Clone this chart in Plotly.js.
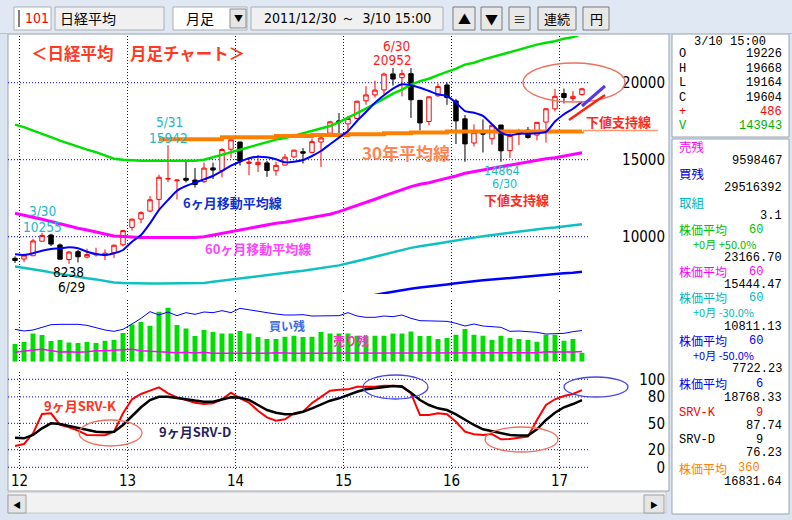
<!DOCTYPE html>
<html><head><meta charset="utf-8">
<script src="https://cdn.plot.ly/plotly-3.0.1.min.js"></script>
<style>html,body{margin:0;padding:0;background:#dbe5f1;}#chart{width:792px;height:520px;}</style>
</head><body><div id="chart"></div>
<script>
// ---------------- data ----------------
const months = ["2011/12","2012/01","2012/02","2012/03","2012/04","2012/05","2012/06","2012/07","2012/08","2012/09","2012/10","2012/11","2012/12",
"2013/01","2013/02","2013/03","2013/04","2013/05","2013/06","2013/07","2013/08","2013/09","2013/10","2013/11","2013/12",
"2014/01","2014/02","2014/03","2014/04","2014/05","2014/06","2014/07","2014/08","2014/09","2014/10","2014/11","2014/12",
"2015/01","2015/02","2015/03","2015/04","2015/05","2015/06","2015/07","2015/08","2015/09","2015/10","2015/11","2015/12",
"2016/01","2016/02","2016/03","2016/04","2016/05","2016/06","2016/07","2016/08","2016/09","2016/10","2016/11","2016/12",
"2017/01","2017/02","2017/03"];
const open  = [8597,8549,8764,9707,10110,9465,8516,9028,8677,8816,8771,8961,9475,10604,11145,11666,12423,13745,13632,13790,13681,13572,14467,14290,15678,16147,14760,14680,14791,14284,14649,15179,15520,15476,16146,16723,17520,17325,17674,18826,19208,19530,20570,20329,20585,18854,17479,19150,19850,18818,17651,16085,16720,16357,17251,15592,16635,16926,16598,17442,18303,19298,18970,19226];
const high  = [8723,8902,9866,10255,10190,9566,9064,9136,9222,9288,9179,9491,10433,11184,11662,12650,14021,15942,13711,14953,14466,14817,14808,15749,16320,16164,15094,15312,14925,14864,15376,15646,15759,16374,16533,17520,18030,17850,18826,19778,20133,20655,20952,20850,20946,18877,19115,19959,20012,18951,17905,17291,17613,17251,17251,16938,17003,17121,17425,18308,19592,19615,19459,19668];
const low   = [8296,8349,8740,9700,9388,8511,8238,8328,8589,8708,8488,8619,9366,10398,10880,11584,11805,13555,12415,13532,13188,13492,13748,13853,15112,14619,13995,14203,13885,13964,14640,15123,14753,15426,14529,16720,16672,16592,17615,18573,19034,19258,19821,19115,17714,16901,17229,19080,18562,16017,14865,15857,15471,15975,14864,15106,15948,16359,16251,16111,18137,18650,18805,19164];
const close = [8455,8802,9723,10083,9520,8542,9006,8695,8839,8870,8928,9446,10395,11138,11559,12397,13860,13774,13677,13668,13388,14455,14327,15661,16291,14914,14841,14827,14304,14632,15162,15620,15424,16173,16413,17459,17450,17674,18797,19206,19520,20563,20235,20585,18890,17388,19083,19747,19033,17518,16026,16758,16666,17234,15575,16569,16887,16449,17425,18308,19114,19041,19118,19604];
const ma6   = [8857,8810,8925,9090,9200,9245,9310,9245,9025,8875,8810,8920,9135,9675,10110,10870,11735,12380,12985,13290,13505,13725,13940,14265,14610,14870,15090,15195,15155,15025,14830,14870,14980,15240,15565,16000,16430,16860,17510,18100,18700,19180,19610,19895,19830,19675,19460,19245,19135,18700,18160,18050,17840,17300,16755,16585,16690,16690,16715,16800,17480,17950,18310,18768.33];
const ma60  = [11520,11410,11260,11130,10975,10825,10695,10545,10435,10325,10175,10045,10000,9960,9950,9950,9950,9950,9950,9950,9950,10000,10110,10220,10325,10435,10545,10650,10760,10870,10935,11040,11120,11235,11345,11455,11625,11820,11995,12210,12430,12645,12860,13035,13250,13400,13505,13660,13790,13940,14115,14200,14330,14440,14545,14655,14740,14850,14980,15065,15130,15240,15305,15444.47];
const ma360 = [null,null,null,null,null,null,null,null,null,null,null,null,null,null,null,null,16330,16330,16330,16330,16330,16330,16330,16455,16455,16455,16455,16455,16455,16540,16540,16540,16540,16600,16600,16600,16600,16660,16660,16660,16660,16715,16715,16715,16760,16760,16760,16760,16830,16830,16830,16830,16830,16830,16830,16830,16830,16830,16830,16830,16830,16830,16830,16831.64];
const bandRates = {"+50.0%": 0.5, "-30.0%": -0.3, "-50.0%": -0.5};
const volume = [283000,315000,453000,427000,331000,347000,309000,299000,315000,299000,336000,347000,459000,597000,635000,576000,800000,864000,587000,533000,411000,507000,475000,453000,453000,491000,453000,395000,363000,363000,400000,416000,395000,400000,475000,453000,453000,453000,416000,411000,416000,416000,453000,453000,485000,411000,411000,363000,379000,432000,523000,432000,416000,347000,416000,379000,363000,347000,320000,432000,432000,336000,363000,143943];
const buyBalance  = [30.68,29.09,30.04,32.57,35.10,35.41,35.41,35.41,34.47,32.25,30.04,28.78,30.68,35.73,41.10,47.42,44.26,47.10,43.63,46.47,44.89,47.10,46.47,48.36,46.47,50.58,49.00,47.42,46.47,45.20,44.26,44.26,44.57,43.31,43.63,43.63,43.63,46.47,43.31,42.05,42.05,43.31,42.68,44.26,41.10,38.88,38.57,38.26,38.26,36.36,33.83,35.73,33.83,33.20,32.57,28.78,29.09,28.46,27.83,26.25,26.25,26.88,28.46,29.52];
const sellBalance = [8.88,10.14,11.09,11.72,10.46,9.19,9.51,8.88,9.51,10.46,10.46,11.09,11.09,11.72,10.46,9.83,9.83,8.88,8.56,8.88,8.25,8.88,7.93,7.93,7.93,7.93,7.93,7.61,7.93,8.56,7.93,7.93,7.93,7.93,7.93,8.25,7.93,8.56,8.25,8.25,8.25,7.93,7.93,7.93,8.56,7.93,8.25,7.93,8.25,7.93,8.56,8.25,8.56,7.93,8.56,8.25,7.93,8.56,8.56,9.51,9.19,9.19,9.19,9.60];
const srvK = [24.2,26.5,38.6,60.6,61.4,48.1,45.5,41.6,36.7,36.4,36.4,40.5,61.4,77.3,83.3,87.1,90.9,84.1,79.5,76.5,73.4,71.9,72.7,77.3,84.8,78.4,73.4,64.3,56.8,53.0,54.5,61.4,63.2,73.0,80.5,87.1,88.0,88.6,91.6,91.6,91.6,92.7,92.7,92.4,84.1,59.4,59.4,61.4,60.2,51.8,40.5,37.5,36.7,37.8,31.8,32.2,33.6,34.8,53.8,70.8,77.3,81.0,83.3,87.74];
const srvD = [33.6,32.9,36.7,44.3,50.0,49.2,46.9,45.0,42.4,40.5,39.8,40.5,48.1,58.3,68.2,76.5,80.2,80.2,79.1,77.3,75.8,74.6,74.6,77.3,79.5,79.1,76.5,70.8,65.1,62.0,60.2,60.6,63.2,67.0,71.6,75.7,78.4,82.2,85.9,88.6,89.8,90.9,92.4,91.6,84.8,76.5,70.8,67.0,65.1,60.2,53.8,48.1,43.2,41.3,39.4,36.7,36.0,36.0,43.2,53.8,62.0,68.2,71.9,76.23];
const yearLabels = ["12","13","14","15","16","17"];
const priceTicks = [10000,15000,20000];
const priceTickText = ["10000","15000","20000"];
const srvTicks = [0,20,50,80,100];
const srvTickText = ["0","20","50","80","100"];

// ---------------- helpers ----------------
const W = 792, H = 520;
const PX = x => x / W, PY = y => 1 - y / H;
const idx = months.map((m, i) => i);
const yearPos = yearLabels.map(y => months.indexOf("20" + y + "/01") - 0.5);
const band = r => ma60.map(v => v * (1 + r));
const JP = '"Noto Sans CJK JP", "Noto Sans CJK SC", sans-serif';
const NUM = '"Liberation Sans Narrow", "DejaVu Sans Condensed", "Liberation Mono", monospace';
const MONO = '"Liberation Mono", "DejaVu Sans Mono", monospace';

// ---------------- traces ----------------
const traces = [
  {type:'scatter', mode:'lines', x: idx, y: band(bandRates["+50.0%"]), line:{color:'#00e000', width:2.5}, xaxis:'x', yaxis:'y', hoverinfo:'skip'},
  {type:'scatter', mode:'lines', x: idx, y: ma60, line:{color:'#ff00ff', width:3}, xaxis:'x', yaxis:'y', hoverinfo:'skip'},
  {type:'scatter', mode:'lines', x: idx, y: band(bandRates["-30.0%"]), line:{color:'#10c0c0', width:2.5}, xaxis:'x', yaxis:'y', hoverinfo:'skip'},
  {type:'scatter', mode:'lines', x: idx, y: band(bandRates["-50.0%"]), line:{color:'#0000ff', width:2.5}, xaxis:'x', yaxis:'y', hoverinfo:'skip'},
  {type:'scatter', mode:'lines', x: idx, y: ma360, line:{color:'#ff8000', width:4, shape:'hv'}, xaxis:'x', yaxis:'y', hoverinfo:'skip'},
  {type:'candlestick', x: idx, open: open, high: high, low: low, close: close, xaxis:'x', yaxis:'y',
   increasing:{line:{color:'#ff0000', width:1}, fillcolor:'#ffffff'},
   decreasing:{line:{color:'#000000', width:1}, fillcolor:'#000000'},
   whiskerwidth:0, hoverinfo:'skip'},
  {type:'scatter', mode:'lines', x: idx, y: ma6, line:{color:'#0000ff', width:2, shape:'spline', smoothing:0.6}, xaxis:'x', yaxis:'y', hoverinfo:'skip'},
  {type:'bar', x: idx, y: volume, width:0.55, marker:{color:'#00dd00', line:{width:0}}, xaxis:'x2', yaxis:'y2', hoverinfo:'skip'},
  {type:'scatter', mode:'lines', x: idx, y: buyBalance, line:{color:'#0000ff', width:1}, xaxis:'x2', yaxis:'y4', hoverinfo:'skip'},
  {type:'scatter', mode:'lines', x: idx, y: sellBalance, line:{color:'#ff00ff', width:1.5}, xaxis:'x2', yaxis:'y4', hoverinfo:'skip'},
  {type:'scatter', mode:'lines', x: idx, y: srvK, line:{color:'#ff0000', width:2}, xaxis:'x3', yaxis:'y3', hoverinfo:'skip'},
  {type:'scatter', mode:'lines', x: idx, y: srvD, line:{color:'#000000', width:2.5}, xaxis:'x3', yaxis:'y3', hoverinfo:'skip'}
];

// ---------------- axes ----------------
const xBase = {domain:[PX(8), PX(668)], range:[-0.78, 72.56], tickvals: yearPos, ticktext: yearLabels,
  showgrid:true, gridcolor:'#0000ff', griddash:'1px,2px', gridwidth:1, zeroline:false, showline:false, ticks:'', fixedrange:true,
  rangeslider:{visible:false}};
const gridEnd = months.length - 1 + 0.67;

const shapes = [];
const rect = (x0,y0,x1,y1,fill,line,lw) => shapes.push({type:'rect', xref:'paper', yref:'paper', x0:PX(x0), x1:PX(x1), y0:PY(y1), y1:PY(y0), fillcolor:fill, line:{color:line||'rgba(0,0,0,0)', width: lw===undefined?1:lw}, layer:'below'});
const pline = (x0,y0,x1,y1,color,w,layer) => shapes.push({type:'line', xref:'paper', yref:'paper', x0:PX(x0), x1:PX(x1), y0:PY(y0), y1:PY(y1), line:{color:color, width:w}, layer:layer||'above'});
const ell = (x0,y0,x1,y1,color,w) => shapes.push({type:'circle', xref:'paper', yref:'paper', x0:PX(x0), x1:PX(x1), y0:PY(y1), y1:PY(y0), line:{color:color, width:w}, layer:'above'});

// window frame & panels
rect(0,0,792,34,'#dfe8f3');
rect(8,34,669,491,'#ffffff','#9aa4b0',1);
rect(672,34,789,137,'#ffffff','#9aa4b0',1);
rect(672,139,789,514,'#ffffff','#9aa4b0',1);
pline(0,33.5,792,33.5,'#b8c4d2',1,'below');
// toolbar widgets
rect(14,7,51,30,'#ffffff','#a8b0b8',1);
pline(19,10,19,27,'#000000',1);
rect(55,7,164,30,'#f0f0f0','#a8b0b8',1);
rect(173,7,247,30,'#ffffff','#a8b0b8',1);
rect(230,9,246,28,'#e6e6e6','#8a8a8a',1);
rect(251,7,443,30,'#f0f0f0','#a8b0b8',1);
rect(453,7,475,30,'#e8e8e8','#7a7a7a',1);
rect(481,7,502,30,'#e8e8e8','#7a7a7a',1);
rect(509,7,530,30,'#e8e8e8','#7a7a7a',1);
rect(538,7,576,30,'#e8e8e8','#7a7a7a',1);
rect(583,7,609,30,'#e8e8e8','#7a7a7a',1);
// scrollbar
rect(8,492,666,513,'#f2f2f2','#c8c8c8',1);
rect(8,495,26,513,'#e6e6e6','#a0a0a0',1);
rect(644,495,664,513,'#e6e6e6','#a0a0a0',1);

// horizontal dotted grid lines
priceTicks.forEach(v => shapes.push({type:'line', xref:'x', yref:'y', x0:-0.78, x1:gridEnd, y0:v, y1:v, line:{color:'#0000ff', width:1, dash:'1px,2px'}, layer:'below'}));
srvTicks.forEach(v => shapes.push({type:'line', xref:'x3', yref:'y3', x0:-0.78, x1:gridEnd, y0:v, y1:v, line:{color:'#0000ff', width:1, dash:'1px,2px'}, layer:'below'}));

// hand-drawn marks
ell(523,63,625,102,'#f07060',1.3);
ell(79,420,142,446,'#f07060',1.3);
ell(485,427,558,452,'#f07060',1.3);
ell(363,375,428,399,'#4848e8',1.3);
ell(564,377,628,397,'#4848e8',1.3);
pline(569,120,605,95,'#ff2010',2.5);
pline(582,106,605,86,'#5a3ae0',3);
pline(583,130.5,658,130.5,'#ff9870',1.5);

// ---------------- annotations ----------------
const ann = [];
const T = (x,y,text,color,size,family,xanchor) => ann.push({xref:'paper', yref:'paper', x:PX(x), y:PY(y), text:text, showarrow:false,
  xanchor:xanchor||'left', yanchor:'middle', borderpad:0, font:{family:family||JP, size:size||13, color:color||'#000000'}});

// toolbar text
T(24,18.5,'101','#ff0000',14,NUM);
T(59,18.5,'日経平均','#000000',14,JP);
T(200,18.5,'月足','#000000',14,JP,'center');
T(238,18.5,'▼','#000000',9,JP,'center');
T(347,18.5,'2011/12/30 ～  3/10 15:00','#000000',14,NUM,'center');
T(464,18.5,'▲','#000000',13,JP,'center');
T(491.5,18.5,'▼','#000000',13,JP,'center');
T(519.5,18.5,'≡','#000000',13,JP,'center');
T(557,18.5,'連続','#000000',13,JP,'center');
T(596,18.5,'円','#000000',13,JP,'center');
T(17,504,'◀','#000000',8,JP,'center');
T(654,504,'▶','#000000',8,JP,'center');

// chart labels
T(30,53,'<b>＜日経平均　月足チャート＞</b>','#ff3a24',16.5,JP);
T(232,203,'<b>6ヶ月移動平均線</b>','#1030d0',13,JP,'center');
T(204,248.5,'<b>60ヶ月移動平均線</b>','#ff44ff',13,JP);
T(361,152.7,'<b>30年平均線</b>','#ff8450',17,JP);
T(483,199.3,'<b>下値支持線</b>','#ff2a1a',13,JP);
T(585,121.7,'<b>下値支持線</b>','#ff2a1a',13,JP);
T(268,325,'<b>買い残</b>','#3a6ee8',12,JP);
T(332,340,'<b>売り残</b>','#ff30c0',12,JP);
T(43,405,'<b>9ヶ月SRV-K</b>','#ff3322',13,JP);
T(158,431.5,'<b>9ヶ月SRV-D</b>','#2a1f5c',13,JP);
T(42,211.2,'3/30','#20b8c8',13.5,NUM,'center');
T(42,226.8,'10255','#20b8c8',13.5,NUM,'center');
T(68,271.5,'8238','#000000',13.5,NUM,'center');
T(71.5,287,'6/29','#000000',13.5,NUM,'center');
T(169.5,122.2,'5/31','#20b8c8',13.5,NUM,'center');
T(168,137.8,'15942','#20b8c8',13.5,NUM,'center');
T(396,45.5,'6/30','#ff2020',13.5,NUM,'center');
T(392,59.8,'20952','#ff2020',13.5,NUM,'center');
T(501.5,170.3,'14864','#20b8c8',12.5,NUM,'center');
T(504.5,183.4,'6/30','#20b8c8',12.5,NUM,'center');

// right info panel
const R = 783, L = 678;
T(730,41.7,'3/10 15:00','#000000',12,MONO,'center');
[['O','19226',54],['H','19668',69.3],['L','19164',83.3],['C','19604',97.7]].forEach(r => { T(L,r[2],r[0],'#000000',12,MONO); T(R,r[2],r[1],'#000000',12,MONO,'right'); });
T(L,111.7,'+','#ff0000',12,MONO); T(R,111.7,'486','#ff0000',12,MONO,'right');
T(L,126,'V','#00b000',12,MONO); T(R,126,'143943','#00b000',12,MONO,'right');
T(L,146.7,'売残','#ff00ff',12.5,JP); T(R,160.7,'9598467','#000000',12,MONO,'right');
T(L,174,'買残','#0000cc',12.5,JP); T(R,188.3,'29516392','#000000',12,MONO,'right');
T(L,202.7,'取組','#00b8c0',12.5,JP); T(R,215.7,'3.1','#000000',12,MONO,'right');
const grp = (y,color,n,nx,sub,val) => { T(L,y-0.5,'株価平均',color,12,JP); T(nx,y,n,color,12,MONO); if(sub){T(692,y+13.5,sub,color,11,JP);} T(R, sub? y+28.3 : y+13.4, val,'#000000',12,MONO,'right'); };
grp(230,'#00c000','60',748,'+0月 +50.0%','23166.70');
grp(271.7,'#ff00ff','60',748,null,'15444.47');
grp(298.3,'#00b8c0','60',748,'+0月 -30.0%','10811.13');
grp(341,'#0000ff','60',748,'+0月 -50.0%','7722.23');
grp(384.3,'#0000ff','6',755,null,'18768.33');
T(L,412.7,'SRV-K','#ff0000',12,MONO); T(755,412.7,'9','#ff0000',12,MONO); T(R,426,'87.74','#000000',12,MONO,'right');
T(L,440,'SRV-D','#000000',12,MONO); T(755,440,'9','#000000',12,MONO); T(R,453.3,'76.23','#000000',12,MONO,'right');
T(L,468,'株価平均','#ff8000',12,JP); T(737,468.3,'360','#ff8000',12,MONO); T(R,481.7,'16831.64','#000000',12,MONO,'right');

// ---------------- layout ----------------
const layout = {
  width: W, height: H, margin:{l:0, r:0, t:0, b:0, pad:0},
  paper_bgcolor:'#dbe5f1', plot_bgcolor:'rgba(0,0,0,0)', showlegend:false, dragmode:false, hovermode:false,
  xaxis: Object.assign({}, xBase, {anchor:'y', showticklabels:false}),
  xaxis2: Object.assign({}, xBase, {anchor:'y2', showticklabels:false}),
  xaxis3: Object.assign({}, xBase, {anchor:'y3', showticklabels:true, tickfont:{family:NUM, size:15, color:'#000000'}}),
  yaxis: {domain:[PY(294), PY(36)], range:[6279, 23032], anchor:'x', side:'right', ticklabelposition:'inside', ticklabeloverflow:'allow',
    tickvals:priceTicks, ticktext:priceTickText,
    showgrid:false, zeroline:false, showline:false, ticks:'', fixedrange:true, tickfont:{family:NUM, size:15, color:'#000000'}},
  yaxis2: {domain:[PY(361.7), PY(300)], range:[0, 987200], anchor:'x2', visible:false, fixedrange:true},
  yaxis4: {overlaying:'y2', range:[0, 58.47], anchor:'x2', visible:false, fixedrange:true},
  yaxis3: {domain:[PY(470), PY(372)], range:[-3.07, 108.3], anchor:'x3', side:'right', ticklabelposition:'inside', ticklabeloverflow:'allow',
    tickvals:srvTicks, ticktext:srvTickText,
    showgrid:false, zeroline:false, showline:false, ticks:'', fixedrange:true, tickfont:{family:NUM, size:15, color:'#000000'}},
  shapes: shapes, annotations: ann, boxgap:0.3
};
Plotly.newPlot('chart', traces, layout, {displayModeBar:false, staticPlot:true});
</script></body></html>
